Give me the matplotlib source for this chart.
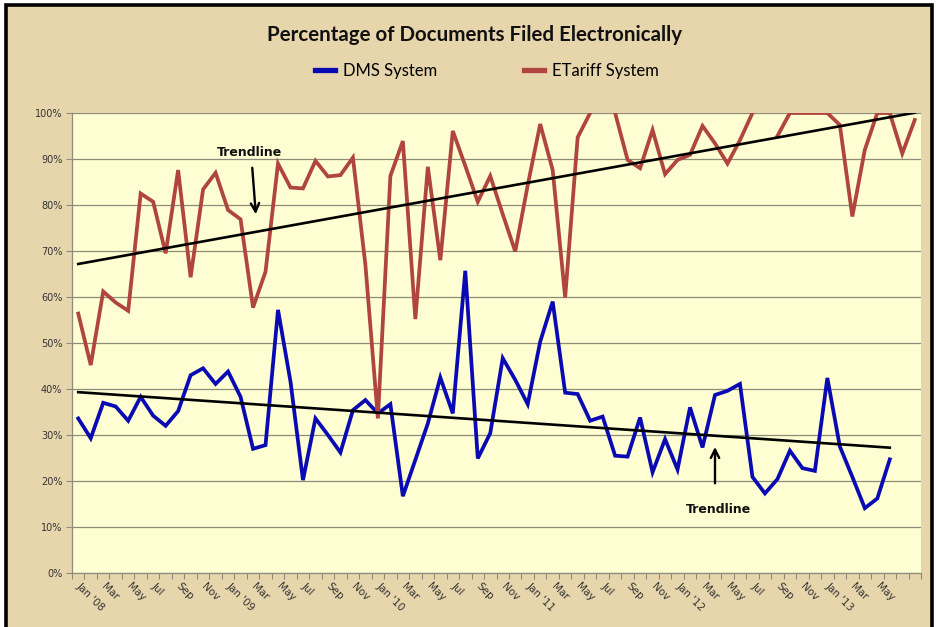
import numpy as np
import matplotlib
matplotlib.use("Agg")
import matplotlib.pyplot as plt
from matplotlib.patches import Rectangle

# ---------------- data ----------------
month_names = ['Jan', 'Feb', 'Mar', 'Apr', 'May', 'Jun',
               'Jul', 'Aug', 'Sep', 'Oct', 'Nov', 'Dec']
years = [2008, 2009, 2010, 2011, 2012, 2013]
n_months = 68  # Jan '08 .. Aug '13

dms = [33.6, 29.3, 37.0, 36.2, 33.1, 38.3, 34.2, 32.0, 35.2, 43.0, 44.5, 41.1,
       43.8, 38.3, 27.0, 27.8, 57.2, 41.6, 20.2, 33.6, 30.0, 26.2, 35.4, 37.6,
       34.7, 36.7, 16.7, 24.6, 32.5, 42.5, 34.7, 65.7, 24.9, 30.4, 46.7, 42.0,
       36.7, 50.3, 59.0, 39.2, 38.9, 33.1, 34.0, 25.5, 25.3, 33.8, 21.9, 29.1,
       22.5, 36.0, 27.3, 38.7, 39.6, 41.1, 20.9, 17.3, 20.4, 26.6, 22.8, 22.2,
       42.4, 27.5, 20.9, 14.1, 16.2, 24.7, np.nan, np.nan]

etariff = [56.4, 45.2, 61.2, 58.8, 57.0, 82.5, 80.7, 69.5, 87.6, 64.3, 83.4, 87.0,
           78.9, 76.9, 57.7, 65.5, 89.0, 83.8, 83.6, 89.6, 86.2, 86.5, 90.3, 67.0,
           33.6, 86.3, 93.9, 55.2, 88.3, 68.0, 96.1, 88.5, 80.7, 86.3, 78.0, 69.9,
           84.3, 97.6, 87.6, 59.9, 94.7, 100.0, np.nan, 100.0, 89.8, 88.0, 96.3, 86.7,
           89.8, 90.9, 97.2, 93.4, 89.0, 94.1, 100.0, np.nan, 95.0, 100.0, 100.0, 100.0,
           100.0, 97.4, 77.5, 92.0, 100.0, 100.0, 91.2, 98.5]

y_ticks = [0, 10, 20, 30, 40, 50, 60, 70, 80, 90, 100]

categories = []
for k in range(n_months):
    y = years[k // 12]
    m = month_names[k % 12]
    categories.append(f"{m} '{str(y)[2:]}" if m == 'Jan' else m)

x_labels_idx = list(range(0, 65, 2))  # Jan '08 ... May '13

# ---------------- figure ----------------
W, H = 936, 627
fig = plt.figure(figsize=(W / 100, H / 100), dpi=100)
fig.patch.set_facecolor('white')

# parchment panel with black border
panel = Rectangle((5.5 / W, -0.01), (932 - 5.5) / W, 1 - 4.5 / H + 0.01,
                  transform=fig.transFigure, facecolor='#E7D5AC',
                  edgecolor='black', linewidth=2.6, zorder=-10)
fig.patches.append(panel)

ax = fig.add_axes([72 / W, 1 - 573 / H, (921 - 72) / W, (573 - 113) / H])
ax.set_facecolor('#FEFED2')

x = np.arange(n_months)
dms_arr = np.array(dms, dtype=float)
et_arr = np.array(etariff, dtype=float)

l1, = ax.plot(x, dms_arr, color='#0A0AB4', lw=2.7, solid_joinstyle='miter',
              label='DMS System', zorder=3)
l2, = ax.plot(x, et_arr, color='#B0443E', lw=2.7, solid_joinstyle='miter',
              label='ETariff System', zorder=3)

# linear trendlines from the data
for arr in (dms_arr, et_arr):
    ok = ~np.isnan(arr)
    xs = x[ok]
    p = np.polyfit(xs, arr[ok], 1)
    xx = np.array([xs.min(), xs.max()])
    ax.plot(xx, np.polyval(p, xx), color='black', lw=1.9, zorder=4)

ax.set_xlim(-0.5, n_months - 0.5)
ax.set_ylim(0, 100)
ax.set_yticks(y_ticks)
ax.set_yticklabels([f"{v}%" for v in y_ticks], fontsize=7, color='#333333')
ax.yaxis.grid(True, color='#8E8C7A', lw=0.9)
ax.set_axisbelow(True)

ax.set_xticks(np.arange(-0.5, n_months, 1))
ax.set_xticklabels([])
ax.tick_params(axis='x', which='major', length=4, width=0.8, color='#8E8C7A', direction='out')
ax.set_xticks(np.array(x_labels_idx) + 0.3, minor=True)
ax.set_xticklabels([categories[i] for i in x_labels_idx], minor=True,
                   rotation=-45, ha='left', va='top', rotation_mode='anchor',
                   fontsize=7.5, color='#333333')
ax.tick_params(axis='x', which='minor', length=0, pad=6)
ax.tick_params(axis='y', length=4, width=0.8, color='#8E8C7A', pad=3)

for s in ('top', 'right'):
    ax.spines[s].set_visible(False)
for s in ('left', 'bottom'):
    ax.spines[s].set_color('#8E8C7A')
    ax.spines[s].set_linewidth(0.9)

# annotations
arrow_style = dict(arrowstyle='->,head_length=0.6,head_width=0.3', lw=1.7, color='black')
ax.text(13.68, 91.5, 'Trendline', fontsize=9, fontweight='bold', ha='center',
        va='center', color='#111111')
ax.annotate('', xy=(14.24, 77.4), xytext=(13.92, 88.7), arrowprops=arrow_style)
ax.text(51.32, 13.7, 'Trendline', fontsize=9, fontweight='bold', ha='center',
        va='center', color='#111111')
ax.annotate('', xy=(51.0, 28.0), xytext=(51.0, 18.9), arrowprops=arrow_style)

# title and legend
fig.text(475 / W, 1 - 35 / H, 'Percentage of Documents Filed Electronically',
         ha='center', va='center', fontsize=14.8, fontweight='bold',
         family='Lato', color='#111111')
leg = fig.legend(handles=[l1, l2], loc='center', bbox_to_anchor=(487 / W, 1 - 71 / H),
                 ncol=2, frameon=False, handlelength=1.2, columnspacing=5.2,
                 handletextpad=0.5, prop={'family': 'Lato', 'size': 12})
for h in leg.legend_handles:
    h.set_linewidth(3.8)

fig.savefig('out.png', dpi=100, facecolor=fig.get_facecolor())
